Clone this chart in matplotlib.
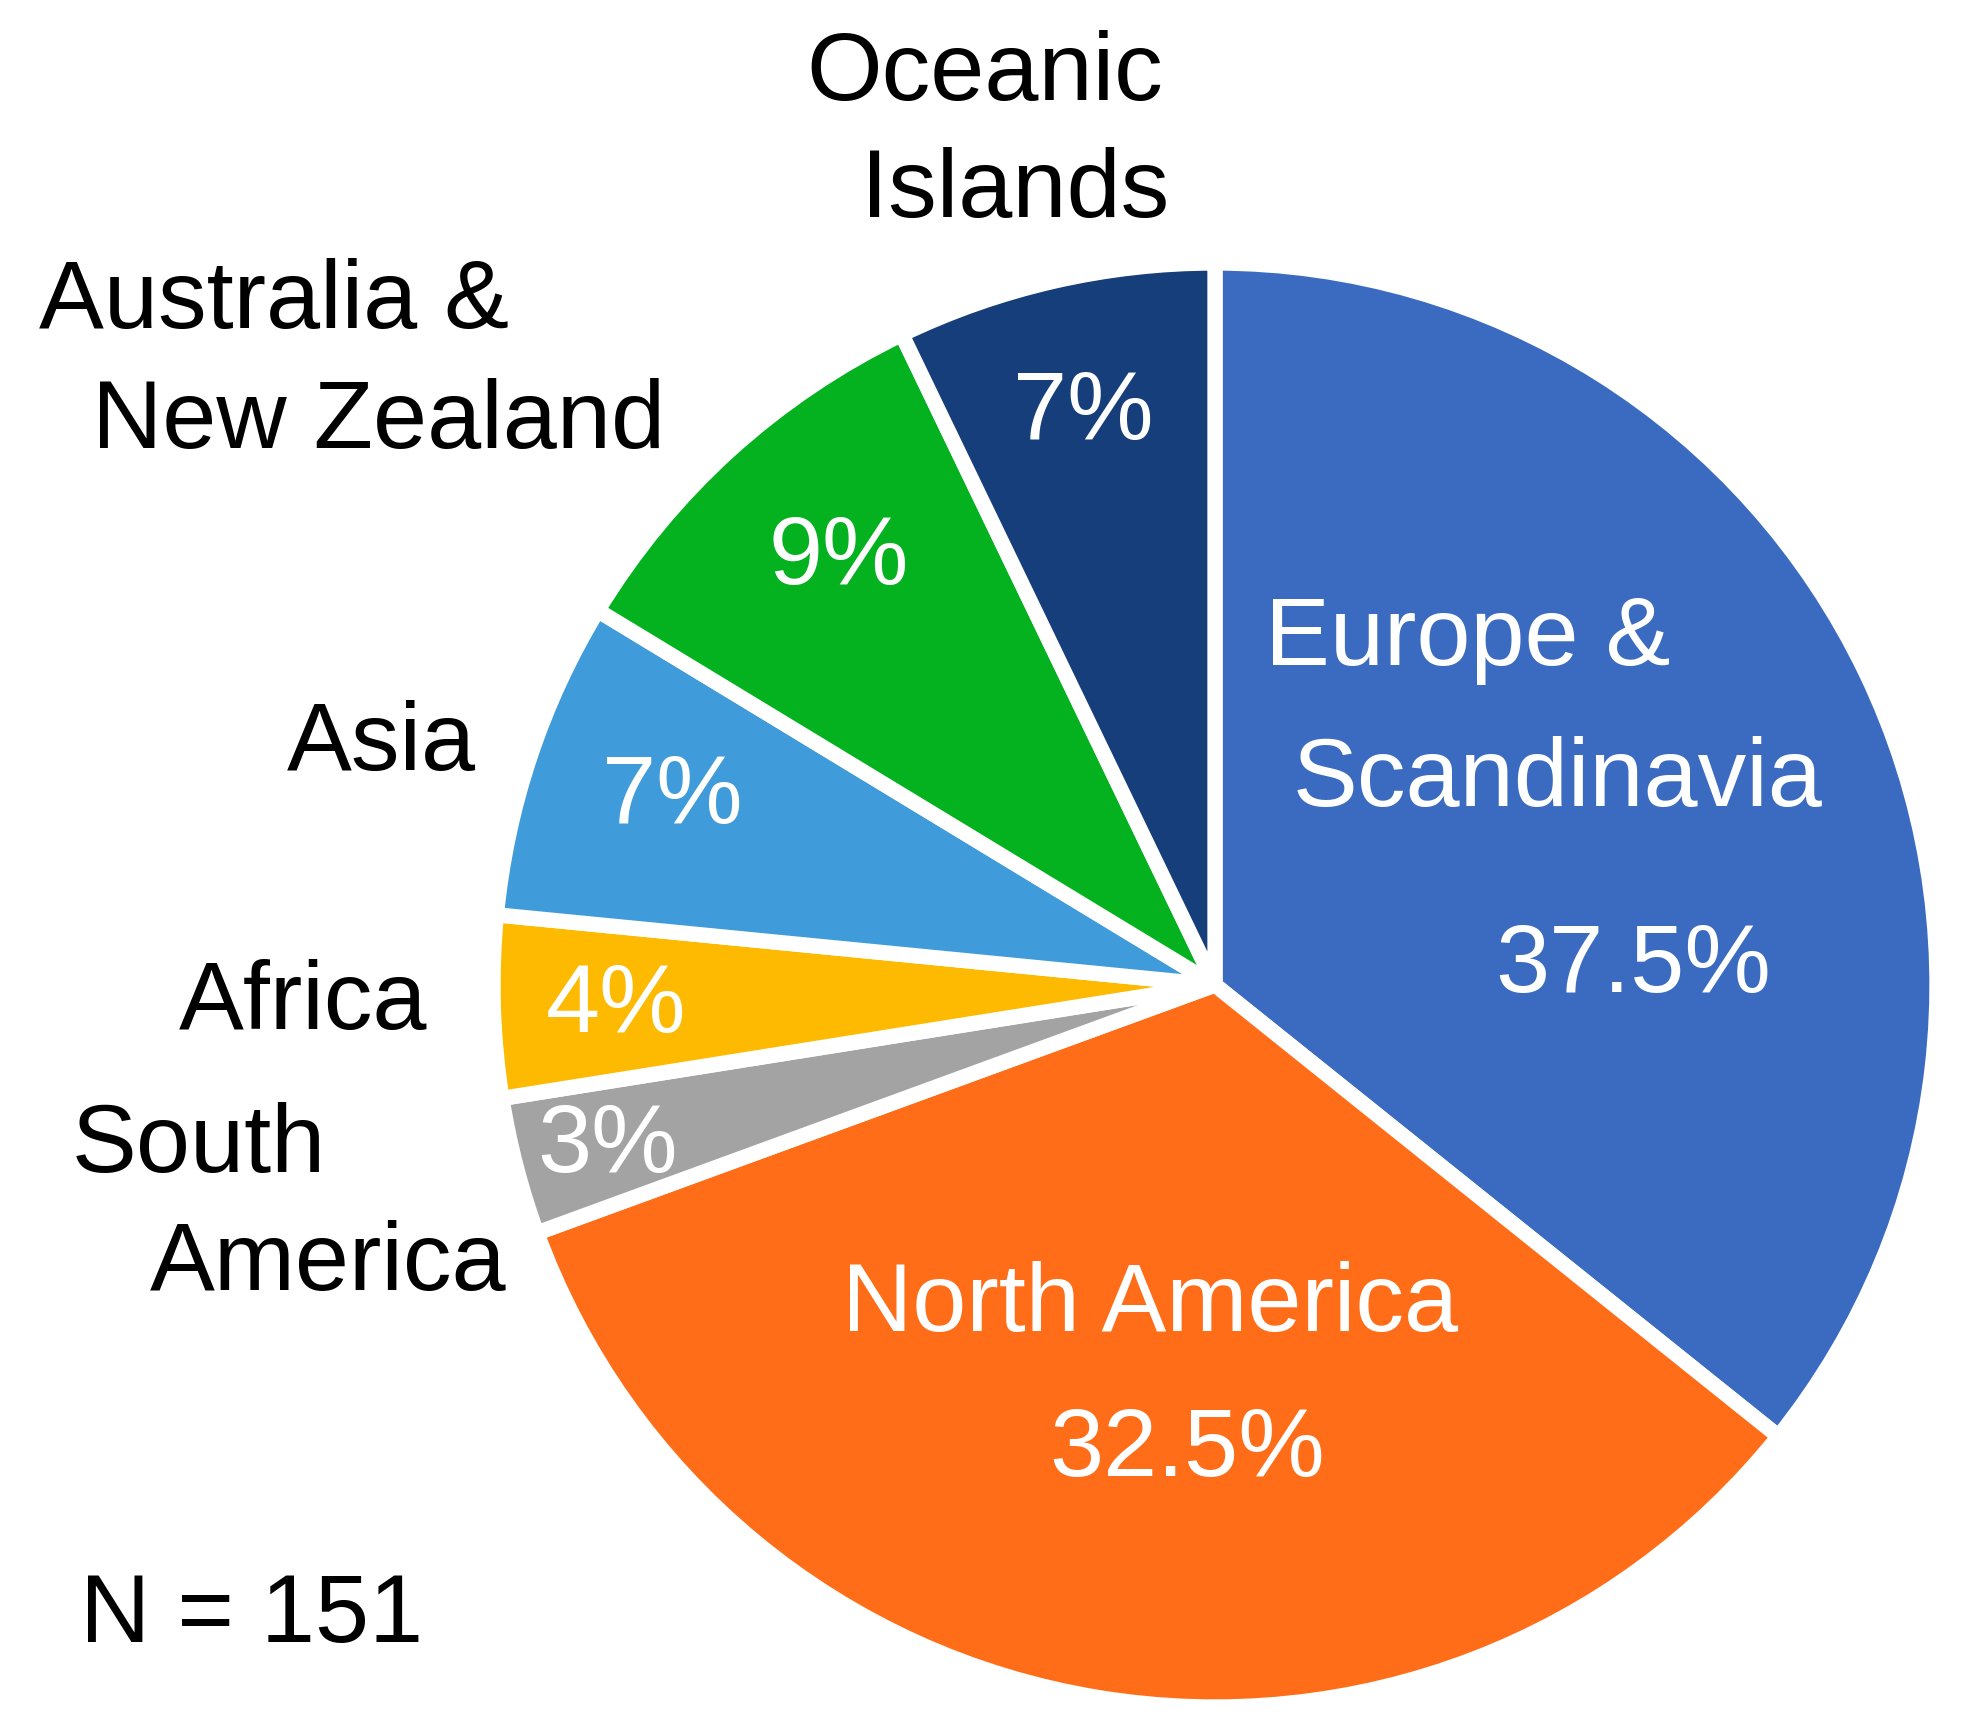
import matplotlib
matplotlib.use("Agg")
import matplotlib.pyplot as plt

plt.rcParams['font.family'] = ['Liberation Sans', 'DejaVu Sans']

# slices go clockwise from 12 o'clock
regions = ['Europe &\nScandinavia', 'North America', 'South\nAmerica', 'Africa',
           'Asia', 'Australia &\nNew Zealand', 'Oceanic\nIslands']
shares = [35.75, 33.67, 3.07, 4.06, 7.13, 9.18, 7.14]   # slice sizes as drawn
pct_text = ['37.5%', '32.5%', '3%', '4%', '7%', '9%', '7%']   # labels as printed
colors = ['#3B6BC0', '#FF6D18', '#A3A3A3', '#FDBA00', '#3F9BD9', '#04B220', '#163E7B']
n_total = 151

W, H = 1970, 1735
cx, cy, R = 1215, 985, 722   # pie centre / radius in pixels

fig = plt.figure(figsize=(W / 100, H / 100), dpi=100)
ax = fig.add_axes([0, 0, 1, 1])
ax.pie(shares, colors=colors, startangle=90, counterclock=False, radius=1,
       wedgeprops=dict(edgecolor='white', linewidth=11, joinstyle='round'))
ax.set_xlim(-cx / R, (W - cx) / R)
ax.set_ylim(-(H - cy) / R, cy / R)
ax.set_aspect('auto')
ax.axis('off')

fs = 70
dy = -0.008  # small nudge so text sits like the reference

# outside (black) labels, one entry per line
outer = {
    'Oceanic\nIslands': [(-0.319, 1.269), (-0.277, 1.107)],
    'Australia &\nNew Zealand': [(-1.303, 0.952), (-1.158, 0.787)],
    'Asia': [(-1.154, 0.341)],
    'Africa': [(-1.263, -0.019)],
    'South\nAmerica': [(-1.407, -0.216), (-1.229, -0.380)],
}
for name, pos in outer.items():
    for line, (x, y) in zip(name.split('\n'), pos):
        ax.text(x, y + dy, line, fontsize=fs, ha='center', va='center', color='black')

# inside (white) labels
inner = {
    'Europe &\nScandinavia': [(0.350, 0.486), (0.475, 0.291)],
    'North America': [(-0.090, -0.436)],
}
for name, pos in inner.items():
    for line, (x, y) in zip(name.split('\n'), pos):
        ax.text(x, y + dy, line, fontsize=fs, ha='center', va='center', color='white')

pct_pos = [(0.579, 0.033), (-0.039, -0.637), (-0.842, -0.216), (-0.830, -0.022),
           (-0.752, 0.267), (-0.521, 0.598), (-0.183, 0.799)]
for txt, (x, y) in zip(pct_text, pct_pos):
    ax.text(x, y + dy, txt, fontsize=fs, ha='center', va='center', color='white')

ax.text(-1.334, -0.868 + dy, f'N = {n_total}', fontsize=fs, ha='center', va='center')

fig.savefig('out.png', dpi=100)
